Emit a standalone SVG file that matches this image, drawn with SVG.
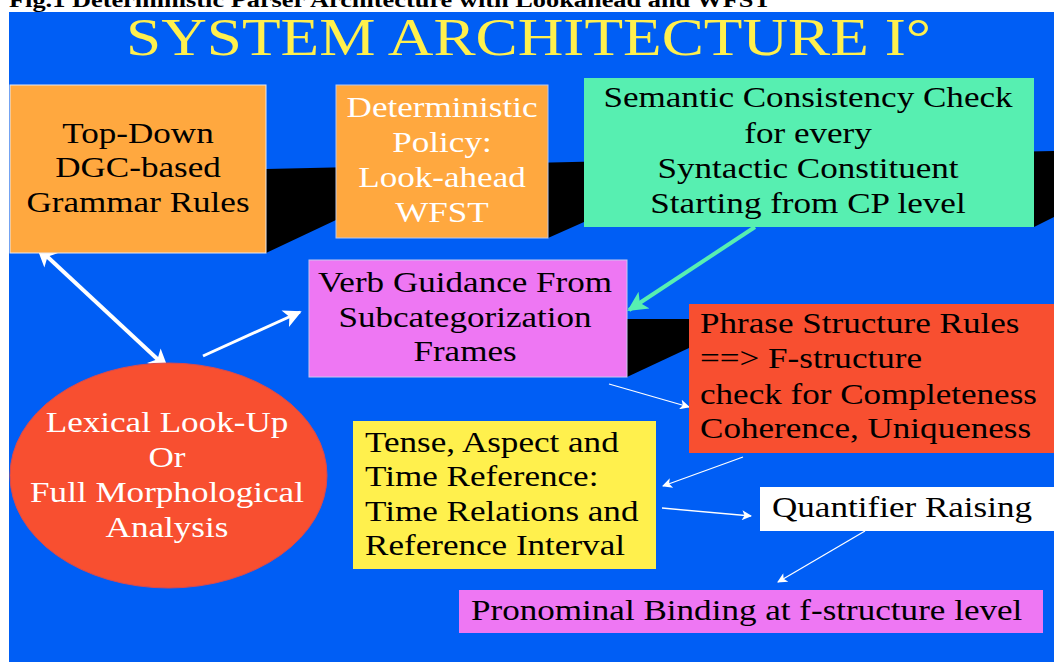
<svg xmlns="http://www.w3.org/2000/svg" width="1054" height="662" viewBox="0 0 1054 662">
  <style>
    .t { font-family: "Liberation Serif", "Times New Roman", serif; font-size: 30px; }
    .dk { fill: #000; }
    .lt { fill: #fff; }
    .mid { text-anchor: middle; }
    .thick { stroke: #fff; stroke-width: 4; fill: none; }
    .med { stroke: #fff; stroke-width: 3; fill: none; }
    .thin { stroke: #fff; stroke-width: 1.3; fill: none; }
  </style>
  <defs>
    <marker id="hBig" viewBox="0 0 10 10" refX="9" refY="5" markerUnits="userSpaceOnUse" markerWidth="24" markerHeight="20" orient="auto-start-reverse">
      <path d="M0,0 L10,5 L0,10 L2.5,5 Z" fill="#fff"/>
    </marker>
    <marker id="hMid" viewBox="0 0 10 10" refX="9" refY="5" markerUnits="userSpaceOnUse" markerWidth="22" markerHeight="18" orient="auto">
      <path d="M0,0 L10,5 L0,10 L2.5,5 Z" fill="#fff"/>
    </marker>
    <marker id="hThin" viewBox="0 0 10 10" refX="9" refY="5" markerUnits="userSpaceOnUse" markerWidth="14" markerHeight="10" orient="auto">
      <path d="M0,0 L10,5 L0,10 L2.5,5 Z" fill="#fff"/>
    </marker>
    <marker id="hGreen" viewBox="0 0 10 10" refX="9" refY="5" markerUnits="userSpaceOnUse" markerWidth="24" markerHeight="20" orient="auto">
      <path d="M0,0 L10,5 L0,10 L2.5,5 Z" fill="#57EFB1"/>
    </marker>
  </defs>

  <!-- page and slide background -->
  <rect x="0" y="0" width="1054" height="662" fill="#fff"/>
  <text x="9" y="6.5" font-family="Liberation Serif, serif" font-weight="bold" font-size="20" textLength="762" lengthAdjust="spacingAndGlyphs" fill="#000">Fig.1 Deterministic Parser Architecture with Lookahead and WFST</text>
  <rect x="9" y="12" width="1045" height="650" fill="#005EF5"/>

  <!-- title -->
  <text x="528.5" y="55" text-anchor="middle" font-family="Liberation Serif, serif" font-size="53" textLength="805" lengthAdjust="spacingAndGlyphs" fill="#FFF04D">SYSTEM ARCHITECTURE I°</text>

  <!-- black ribbons behind the boxes -->
  <g id="ribbons" fill="#000">
    <polygon points="266,169 1054,151 1054,217 1034,227 584,222 548,238 336,220 266,253"/>
    <polygon points="627,319 689,319 689,348 627,377"/>
  </g>

  <!-- connectors -->
  <g id="connectors">
    <line class="thick" x1="38" y1="248" x2="167" y2="368" marker-start="url(#hBig)" marker-end="url(#hBig)"/>
    <line class="med" x1="203" y1="356" x2="300" y2="312" marker-end="url(#hMid)"/>
    <line x1="755" y1="227" x2="629" y2="310" stroke="#57EFB1" stroke-width="4" marker-end="url(#hGreen)"/>
    <line class="thin" x1="609" y1="384" x2="689" y2="407" marker-end="url(#hThin)"/>
    <line class="thin" x1="743" y1="457" x2="663" y2="486" marker-end="url(#hThin)"/>
    <line class="thin" x1="662" y1="508" x2="751" y2="516" marker-end="url(#hThin)"/>
    <line class="thin" x1="865" y1="531" x2="778" y2="582" marker-end="url(#hThin)"/>
  </g>

  <g id="grammar-rules">
    <rect x="10" y="85" width="256" height="168" fill="#FFA83F" stroke="#E8E8F0" stroke-width="1"/>
    <text class="t dk mid" transform="translate(138 0) scale(1.17 1)" x="0" y="143">Top-Down</text>
    <text class="t dk mid" transform="translate(138 0) scale(1.17 1)" x="0" y="177">DGC-based</text>
    <text class="t dk mid" transform="translate(138 0) scale(1.17 1)" x="0" y="212">Grammar Rules</text>
  </g>

  <g id="deterministic-policy">
    <rect x="336" y="85" width="212" height="153" fill="#FFA83F" stroke="#B8C8F0" stroke-width="1"/>
    <text class="t lt mid" transform="translate(442 0) scale(1.17 1)" x="0" y="117">Deterministic</text>
    <text class="t lt mid" transform="translate(442 0) scale(1.17 1)" x="0" y="152">Policy:</text>
    <text class="t lt mid" transform="translate(442 0) scale(1.17 1)" x="0" y="187">Look-ahead</text>
    <text class="t lt mid" transform="translate(442 0) scale(1.17 1)" x="0" y="222">WFST</text>
  </g>

  <g id="semantic-check">
    <rect x="584" y="78" width="450" height="149" fill="#57EFB1"/>
    <text class="t dk mid" transform="translate(808 0) scale(1.17 1)" x="0" y="107">Semantic Consistency Check</text>
    <text class="t dk mid" transform="translate(808 0) scale(1.17 1)" x="0" y="143">for every</text>
    <text class="t dk mid" transform="translate(808 0) scale(1.17 1)" x="0" y="178">Syntactic Constituent</text>
    <text class="t dk mid" transform="translate(808 0) scale(1.17 1)" x="0" y="213">Starting from CP level</text>
  </g>

  <g id="verb-guidance">
    <rect x="309" y="260" width="318" height="117" fill="#EE77F3" stroke="#C8C8F0" stroke-width="1"/>
    <text class="t dk mid" transform="translate(465 0) scale(1.17 1)" x="0" y="292">Verb Guidance From</text>
    <text class="t dk mid" transform="translate(465 0) scale(1.17 1)" x="0" y="327">Subcategorization</text>
    <text class="t dk mid" transform="translate(465 0) scale(1.17 1)" x="0" y="361">Frames</text>
  </g>

  <g id="phrase-structure">
    <rect x="689" y="304" width="365" height="149" fill="#F84F30"/>
    <text class="t dk" transform="translate(700 0) scale(1.17 1)" x="0" y="333">Phrase Structure Rules</text>
    <text class="t dk" transform="translate(700 0) scale(1.17 1)" x="0" y="368">==&gt; F-structure</text>
    <text class="t dk" transform="translate(700 0) scale(1.17 1)" x="0" y="404">check for Completeness</text>
    <text class="t dk" transform="translate(700 0) scale(1.17 1)" x="0" y="438">Coherence, Uniqueness</text>
  </g>

  <g id="lexical-lookup">
    <ellipse cx="168.5" cy="475.5" rx="158.5" ry="112.5" fill="#F84F30" stroke="#D84A50" stroke-width="1"/>
    <text class="t lt mid" transform="translate(167 0) scale(1.17 1)" x="0" y="432">Lexical Look-Up</text>
    <text class="t lt mid" transform="translate(167 0) scale(1.17 1)" x="0" y="467">Or</text>
    <text class="t lt mid" transform="translate(167 0) scale(1.17 1)" x="0" y="502">Full Morphological</text>
    <text class="t lt mid" transform="translate(167 0) scale(1.17 1)" x="0" y="537">Analysis</text>
  </g>

  <g id="tense-aspect">
    <rect x="353" y="421" width="303" height="148" fill="#FFF04D"/>
    <text class="t dk" transform="translate(365 0) scale(1.17 1)" x="0" y="452">Tense, Aspect and</text>
    <text class="t dk" transform="translate(365 0) scale(1.17 1)" x="0" y="486">Time Reference:</text>
    <text class="t dk" transform="translate(365 0) scale(1.17 1)" x="0" y="521">Time Relations and</text>
    <text class="t dk" transform="translate(365 0) scale(1.17 1)" x="0" y="555">Reference Interval</text>
  </g>

  <g id="quantifier-raising">
    <rect x="760" y="487" width="294" height="44" fill="#fff"/>
    <text class="t dk" transform="translate(772 0) scale(1.17 1)" x="0" y="517">Quantifier Raising</text>
  </g>

  <g id="pronominal-binding">
    <rect x="459" y="590" width="584" height="43" fill="#EE77F3"/>
    <text class="t dk" transform="translate(471 0) scale(1.17 1)" x="0" y="620">Pronominal Binding at f-structure level</text>
  </g>
</svg>
